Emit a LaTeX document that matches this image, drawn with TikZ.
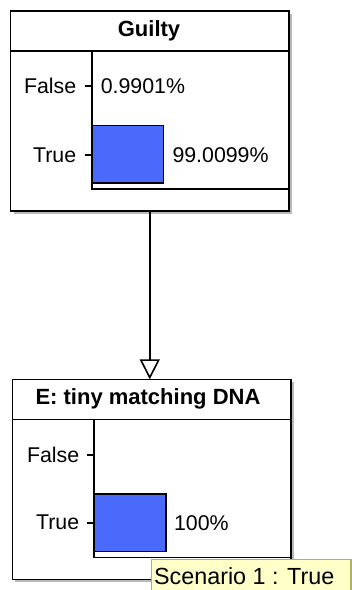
\documentclass[tikz,border=0pt]{standalone}
\usepackage{fontspec}
\setmainfont{Liberation Sans}
\usetikzlibrary{arrows.meta}
\definecolor{barblue}{RGB}{74,106,252}
\definecolor{tipfill}{RGB}{255,255,200}
\definecolor{tipline}{RGB}{175,175,110}
\begin{document}
\begin{tikzpicture}[x=0.75pt,y=-0.75pt,line width=1.2pt,
  nodebox/.style={draw,fill=white,inner sep=0,outer sep=0,anchor=north west,minimum width=208.9pt,minimum height=150pt},
  lbl/.style={inner sep=0,font=\fontsize{16}{17}\selectfont},
  ttl/.style={inner sep=0,font=\bfseries\fontsize{16.5}{17}\selectfont}]
\useasboundingbox (0,0) rectangle (352,590);

% Guilty
\fill[gray!55] (13.5,14) rectangle (292,213.5);
\node[nodebox] (guilty) at (10.5,11) {};
\node[ttl] (gtitle) at (149,31) {Guilty};
\draw (10.5,51) -- (289,51);
\draw (92,51) -- (92,189) -- (289,189);
\draw[fill=barblue] (92,125.3) rectangle (163.3,182.7);
\draw (85,86) -- (92,86);
\draw (85,155) -- (92,155);
\node[lbl,anchor=east] (gfalse) at (77,86) {False};
\node[lbl,anchor=east] (gtrue) at (77,155) {True};
\node[lbl,anchor=west] (gfv) at (100,86) {0.9901\%};
\node[lbl,anchor=west] (gtv) at (171.7,155) {99.0099\%};

% E: tiny matching DNA
\fill[gray!55] (15.3,382.3) rectangle (293.7,582.3);
\node[nodebox] (dna) at (12.3,379.3) {};
\node[ttl] (dtitle) at (148,399.3) {E: tiny matching DNA};
\draw (12.3,419.3) -- (290.7,419.3);
\draw (94,419.3) -- (94,557.3) -- (290.7,557.3);
\draw[fill=barblue] (94,494) rectangle (165.7,551.3);
\draw (87,455) -- (94,455);
\draw (87,522.7) -- (94,522.7);
\node[lbl,anchor=east] (dfalse) at (80,455) {False};
\node[lbl,anchor=east] (dtrue) at (80,522.7) {True};
\node[lbl,anchor=west] (dtv) at (173.3,522.7) {100\%};

\draw[-{Triangle[open,length=15pt,width=15pt,fill=white]}] (guilty.south) -- (guilty.south |- dna.north);

% scenario tip
\draw[tipline,fill=tipfill] (151.3,559.3) rectangle (350.7,592);
\node[inner sep=0,anchor=base west,font=\fontsize{17.5}{18}\selectfont] (scen) at (153.3,584.3) {Scenario 1 : True};
\end{tikzpicture}
\end{document}
